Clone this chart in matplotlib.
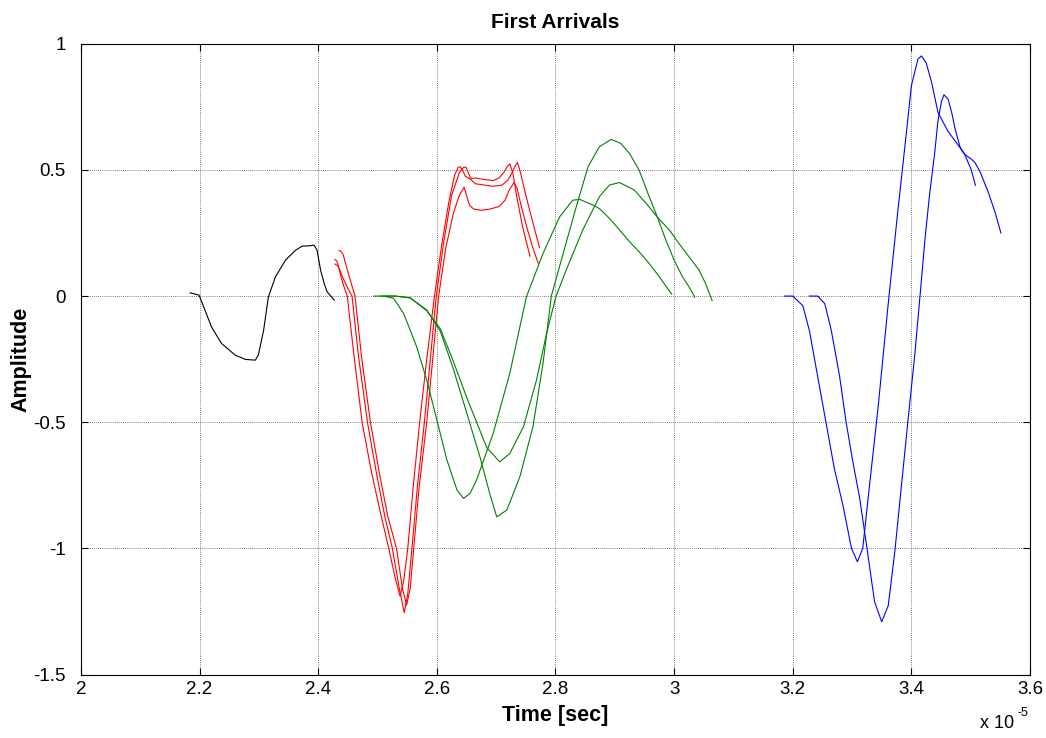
import matplotlib
matplotlib.use("Agg")
import matplotlib.pyplot as plt
from matplotlib.ticker import FuncFormatter
import numpy as np

plt.rcParams['font.family'] = ['Liberation Sans', 'DejaVu Sans']

t_black = [2.184, 2.199, 2.209, 2.220, 2.237, 2.260, 2.277, 2.294, 2.299, 2.308,
           2.316, 2.328, 2.345, 2.362, 2.373, 2.384, 2.393, 2.398, 2.404, 2.410,
           2.415, 2.427]
a_black = [0.013, 0.004, -0.055, -0.122, -0.188, -0.234, -0.251, -0.254, -0.234, -0.135,
           -0.003, 0.077, 0.143, 0.182, 0.198, 0.199, 0.202, 0.182, 0.103, 0.050,
           0.017, -0.016]

t_red1 = [2.428, 2.431, 2.434, 2.438, 2.443, 2.449, 2.460, 2.474, 2.490, 2.505,
          2.519, 2.530, 2.538, 2.544, 2.551, 2.560, 2.571, 2.583, 2.596, 2.608,
          2.620, 2.630, 2.636, 2.639, 2.643, 2.648, 2.655, 2.665, 2.680, 2.695,
          2.705, 2.713, 2.719, 2.723, 2.728, 2.735, 2.745, 2.757]
a_red1 = [0.145, 0.140, 0.120, 0.080, 0.040, 0.000, -0.230, -0.500, -0.700, -0.860,
          -1.000, -1.120, -1.190, -1.130, -1.000, -0.760, -0.500, -0.250, 0.000, 0.200,
          0.370, 0.480, 0.510, 0.513, 0.500, 0.475, 0.465, 0.468, 0.462, 0.458,
          0.468, 0.490, 0.515, 0.524, 0.490, 0.390, 0.270, 0.158]

t_red2 = [2.428, 2.433, 2.437, 2.442, 2.450, 2.457, 2.468, 2.483, 2.498, 2.512,
          2.525, 2.536, 2.545, 2.551, 2.558, 2.567, 2.579, 2.589, 2.599, 2.612,
          2.625, 2.638, 2.645, 2.649, 2.653, 2.658, 2.665, 2.680, 2.695, 2.710,
          2.720, 2.727, 2.733, 2.736, 2.741, 2.750, 2.762, 2.773]
a_red2 = [0.127, 0.120, 0.100, 0.070, 0.030, 0.000, -0.240, -0.500, -0.700, -0.870,
          -1.000, -1.150, -1.255, -1.180, -1.000, -0.760, -0.500, -0.250, 0.000, 0.220,
          0.400, 0.490, 0.510, 0.511, 0.490, 0.460, 0.445, 0.440, 0.435, 0.440,
          0.460, 0.490, 0.520, 0.529, 0.490, 0.400, 0.290, 0.193]

t_red3 = [2.435, 2.438, 2.442, 2.446, 2.452, 2.462, 2.473, 2.488, 2.503, 2.517,
          2.532, 2.542, 2.549, 2.555, 2.561, 2.570, 2.583, 2.593, 2.603, 2.615,
          2.628, 2.638, 2.646, 2.650, 2.655, 2.662, 2.675, 2.690, 2.705, 2.715,
          2.722, 2.730, 2.735, 2.742, 2.752, 2.762, 2.771]
a_red3 = [0.180, 0.178, 0.165, 0.130, 0.080, 0.000, -0.240, -0.500, -0.700, -0.870,
          -1.000, -1.160, -1.225, -1.160, -1.000, -0.760, -0.500, -0.250, 0.000, 0.190,
          0.330, 0.400, 0.431, 0.400, 0.360, 0.345, 0.340, 0.345, 0.355, 0.380,
          0.420, 0.450, 0.430, 0.360, 0.270, 0.190, 0.130]

t_green1 = [2.494, 2.511, 2.527, 2.544, 2.566, 2.583, 2.600, 2.617, 2.634, 2.645,
            2.656, 2.667, 2.695, 2.723, 2.751, 2.779, 2.807, 2.829, 2.841, 2.863,
            2.874, 2.891, 2.908, 2.925, 2.941, 2.958, 2.975, 2.989, 2.996]
a_green1 = [0.000, 0.000, -0.009, -0.069, -0.201, -0.333, -0.491, -0.650, -0.769, -0.802,
            -0.782, -0.729, -0.544, -0.306, -0.003, 0.169, 0.314, 0.380, 0.383, 0.361,
            0.347, 0.308, 0.262, 0.215, 0.176, 0.129, 0.077, 0.030, 0.008]

t_green2 = [2.505, 2.530, 2.555, 2.583, 2.606, 2.628, 2.650, 2.673, 2.690, 2.701,
            2.718, 2.740, 2.762, 2.779, 2.793, 2.813, 2.835, 2.855, 2.874, 2.894,
            2.910, 2.925, 2.941, 2.958, 2.972, 2.986, 3.000, 3.014, 3.025, 3.035]
a_green2 = [0.000, 0.000, -0.007, -0.055, -0.140, -0.290, -0.460, -0.640, -0.790, -0.875,
            -0.848, -0.716, -0.518, -0.267, 0.000, 0.169, 0.354, 0.513, 0.592, 0.621,
            0.605, 0.565, 0.499, 0.394, 0.312, 0.222, 0.143, 0.077, 0.037, -0.005]

t_green3 = [2.510, 2.530, 2.555, 2.583, 2.606, 2.628, 2.650, 2.667, 2.684, 2.706,
            2.723, 2.746, 2.768, 2.785, 2.801, 2.818, 2.846, 2.874, 2.891, 2.908,
            2.933, 2.953, 2.972, 2.992, 3.008, 3.025, 3.042, 3.053, 3.064]
a_green3 = [0.000, 0.000, -0.007, -0.058, -0.130, -0.260, -0.400, -0.500, -0.600, -0.657,
            -0.624, -0.518, -0.333, -0.148, 0.000, 0.103, 0.262, 0.394, 0.440, 0.450,
            0.420, 0.367, 0.312, 0.262, 0.209, 0.156, 0.103, 0.050, -0.018]

t_blue1 = [3.186, 3.200, 3.217, 3.228, 3.242, 3.256, 3.270, 3.285, 3.299, 3.309,
           3.318, 3.327, 3.344, 3.361, 3.377, 3.389, 3.400, 3.411, 3.417, 3.425,
           3.434, 3.445, 3.462, 3.479, 3.490, 3.501, 3.508]
a_blue1 = [0.000, 0.000, -0.038, -0.136, -0.318, -0.500, -0.682, -0.833, -1.000, -1.053,
           -1.000, -0.803, -0.439, -0.030, 0.333, 0.591, 0.833, 0.939, 0.952, 0.924,
           0.848, 0.727, 0.652, 0.598, 0.561, 0.500, 0.439]

t_blue2 = [3.228, 3.242, 3.254, 3.265, 3.279, 3.290, 3.301, 3.313, 3.327, 3.338,
           3.350, 3.361, 3.372, 3.383, 3.394, 3.406, 3.414, 3.423, 3.431, 3.439,
           3.445, 3.451, 3.455, 3.462, 3.468, 3.474, 3.482, 3.490, 3.500, 3.507,
           3.516, 3.530, 3.541, 3.551]
a_blue2 = [0.000, 0.000, -0.030, -0.136, -0.318, -0.500, -0.652, -0.803, -1.030, -1.212,
           -1.291, -1.227, -1.015, -0.758, -0.500, -0.227, -0.015, 0.227, 0.409, 0.561,
           0.697, 0.773, 0.798, 0.780, 0.727, 0.660, 0.591, 0.561, 0.545, 0.530,
           0.492, 0.409, 0.333, 0.250]

traces = [
    (t_black, a_black, 'k'),
    (t_red1, a_red1, 'r'),
    (t_red2, a_red2, 'r'),
    (t_red3, a_red3, 'r'),
    (t_green1, a_green1, '#008000'),
    (t_green2, a_green2, '#008000'),
    (t_green3, a_green3, '#008000'),
    (t_blue1, a_blue1, 'b'),
    (t_blue2, a_blue2, 'b'),
]

fig = plt.figure(figsize=(10.46, 7.38), dpi=100)
ax = fig.add_axes([0.0774, 0.0860, 0.9073, 0.8547])

for t, a, c in traces:
    ax.plot(np.array(t) * 1e-5, a, color=c, linewidth=0.8)

ax.set_xlim(2e-5, 3.6e-5)
ax.set_ylim(-1.5, 1)
ax.set_xticks(np.arange(2.0, 3.61, 0.2) * 1e-5)
ax.set_yticks([-1.5, -1, -0.5, 0, 0.5, 1])
ax.xaxis.set_major_formatter(FuncFormatter(lambda v, p: f'{v / 1e-5:g}'))
ax.yaxis.set_major_formatter(FuncFormatter(lambda v, p: f'{v:g}'))

ax.tick_params(direction='in', top=True, right=True, length=5, width=0.8,
               labelsize=13.5)
ax.tick_params(axis='x', pad=5)
ax.tick_params(axis='y', pad=11)
ax.grid(True, color='#555555', linestyle=(0, (1, 1.5)), linewidth=0.6)
for s in ax.spines.values():
    s.set_linewidth(0.8)

ax.set_title('First Arrivals', fontsize=15, fontweight='bold', pad=11)
ax.set_xlabel('Time [sec]', fontsize=15.5, fontweight='bold')
ax.set_ylabel('Amplitude', fontsize=15.5, fontweight='bold')
ax.xaxis.set_label_coords(0.5, -0.048)
ax.yaxis.set_label_coords(-0.052, 0.5)

# MATLAB-style exponent label under the right end of the x axis
fig.text(980 / 1046, (738 - 728) / 738, 'x 10', fontsize=13, ha='left', va='baseline')
fig.text(1018 / 1046, (738 - 716) / 738, '-5', fontsize=9, ha='left', va='baseline')

fig.savefig('out.png', dpi=100)
